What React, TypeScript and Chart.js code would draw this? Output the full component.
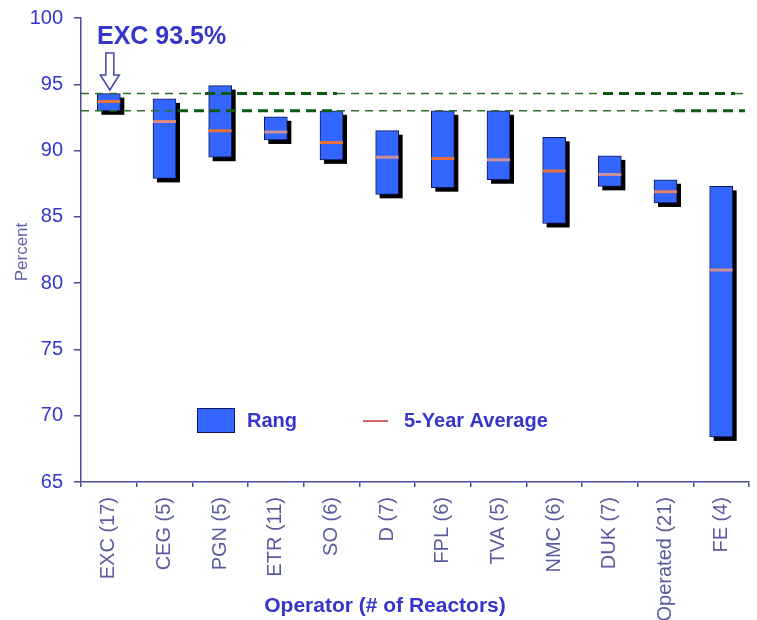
import React, { useEffect, useRef } from "react";
import { Chart, registerables } from "chart.js";

Chart.register(...registerables);

const categories = [
  "EXC (17)", "CEG (5)", "PGN (5)", "ETR (11)", "SO (6)", "D (7)",
  "FPL (6)", "TVA (5)", "NMC (6)", "DUK (7)", "Operated (21)", "FE (4)",
];
const rangeLow = [93.0, 87.9, 89.5, 90.8, 89.3, 86.7, 87.2, 87.8, 84.5, 87.3, 86.05, 68.4];
const rangeHigh = [94.3, 93.9, 94.9, 92.55, 93.0, 91.5, 93.0, 93.0, 91.0, 89.6, 87.8, 87.3];
const fiveYearAvg = [93.7, 92.2, 91.5, 91.4, 90.6, 89.5, 89.4, 89.3, 88.45, 88.2, 86.9, 81.0];
const referenceLines = [94.3, 93.0];
const yTicks = [65, 70, 75, 80, 85, 90, 95, 100];
const highlightLabel = "EXC 93.5%";
const legendLabels = ["Rang", "5-Year Average"];
const xTitle = "Operator (# of Reactors)";
const yTitle = "Percent";

const FONT = "'Liberation Sans', Arial, sans-serif";
const AXIS = "#4a4a9a";
const BLUE_TEXT = "#3535cc";
const BAR_FILL = "#3366ff";
const BAR_EDGE = "#14145a";
const AVG_COLORS = ["#e8703a", "#d88a80", "#e8703a", "#c9909a", "#e8703a", "#c9909a",
  "#e8703a", "#c9909a", "#e8703a", "#c9909a", "#e0806a", "#d09090"];

const deco = {
  id: "deco",
  beforeDatasetsDraw(chart: any) {
    const ctx = chart.ctx;
    const meta = chart.getDatasetMeta(0);
    ctx.save();
    ctx.fillStyle = "#000";
    meta.data.forEach((el: any) => {
      const top = Math.min(el.y, el.base);
      const bot = Math.max(el.y, el.base);
      ctx.fillRect(el.x - el.width / 2 + 4, top + 4, el.width, bot - top);
    });
    ctx.restore();
  },
  afterDatasetsDraw(chart: any) {
    const ctx = chart.ctx;
    const ys = chart.scales.y;
    const area = chart.chartArea;
    const styles = [
      [[area.left, 205, false], [205, 337, true], [337, 603, false], [603, 735, true], [735, area.right - 4, false]],
      [[area.left, 178, false], [178, 337, true], [337, 675, false], [675, area.right - 4, true]],
    ];
    ctx.save();
    referenceLines.forEach((v, i) => {
      const y = ys.getPixelForValue(v);
      (styles[i] as any[]).forEach(([a, b, thick]) => {
        ctx.beginPath();
        ctx.strokeStyle = thick ? "#0f5a12" : "#2a6e2a";
        ctx.lineWidth = thick ? 3 : 1.4;
        ctx.setLineDash(thick ? [10, 6] : [8, 6]);
        ctx.moveTo(a, y);
        ctx.lineTo(b, y);
        ctx.stroke();
      });
    });
    ctx.restore();
  },
  afterDraw(chart: any) {
    const ctx = chart.ctx;
    const bar0 = chart.getDatasetMeta(0).data[0];
    ctx.save();
    ctx.fillStyle = BLUE_TEXT;
    ctx.font = `bold 25px ${FONT}`;
    ctx.textAlign = "left";
    ctx.textBaseline = "middle";
    ctx.fillText(highlightLabel, 97, 37);
    const cx = bar0.x + 1;
    ctx.beginPath();
    ctx.moveTo(cx - 4, 53);
    ctx.lineTo(cx + 4, 53);
    ctx.lineTo(cx + 4, 75);
    ctx.lineTo(cx + 9.5, 75);
    ctx.lineTo(cx, 90);
    ctx.lineTo(cx - 9.5, 75);
    ctx.lineTo(cx - 4, 75);
    ctx.closePath();
    ctx.fillStyle = "#fff";
    ctx.fill();
    ctx.strokeStyle = "#4545a5";
    ctx.lineWidth = 1.5;
    ctx.stroke();
    ctx.fillStyle = BAR_FILL;
    ctx.fillRect(197, 408, 38, 25);
    ctx.strokeStyle = BAR_EDGE;
    ctx.lineWidth = 1;
    ctx.strokeRect(197.5, 408.5, 37, 24);
    ctx.fillStyle = BLUE_TEXT;
    ctx.font = `bold 20px ${FONT}`;
    ctx.fillText(legendLabels[0], 247, 421);
    ctx.beginPath();
    ctx.strokeStyle = "#c03535";
    ctx.lineWidth = 1.5;
    ctx.moveTo(363, 421);
    ctx.lineTo(388, 421);
    ctx.stroke();
    ctx.fillText(legendLabels[1], 404, 421);
    ctx.font = `bold 21px ${FONT}`;
    ctx.textAlign = "center";
    ctx.fillText(xTitle, 385, 606);
    ctx.translate(22, 252);
    ctx.rotate(-Math.PI / 2);
    ctx.fillStyle = "#6060a8";
    ctx.font = `17px ${FONT}`;
    ctx.fillText(yTitle, 0, 0);
    ctx.restore();
  },
};

export default function App() {
  const ref = useRef<HTMLCanvasElement>(null);
  useEffect(() => {
    if (!ref.current) return;
    const chart = new Chart(ref.current, {
      data: {
        labels: categories,
        datasets: [
          {
            type: "bar",
            label: legendLabels[0],
            data: categories.map((_, i) => [rangeLow[i], rangeHigh[i]]),
            backgroundColor: BAR_FILL,
            borderColor: BAR_EDGE,
            borderWidth: 1,
            borderSkipped: false,
            barThickness: 23,
            order: 2,
          } as any,
          {
            type: "line",
            label: legendLabels[1],
            data: fiveYearAvg,
            showLine: false,
            pointStyle: "line",
            pointRadius: 11.5,
            pointBorderWidth: 3,
            pointBorderColor: AVG_COLORS,
            pointBackgroundColor: AVG_COLORS,
            order: 1,
          } as any,
        ],
      },
      options: {
        responsive: false,
        animation: false,
        layout: { autoPadding: false, padding: { top: 18, right: 8, left: 0, bottom: 0 } },
        plugins: { legend: { display: false }, tooltip: { enabled: false } },
        scales: {
          x: {
            offset: true,
            afterFit: (s: any) => { s.height = 138; s.paddingLeft = 0; s.paddingRight = 0; },
            grid: { offset: true, drawOnChartArea: false, drawTicks: true, tickLength: 5, color: AXIS, lineWidth: 1.5 },
            border: { color: AXIS, width: 1.5 },
            ticks: {
              autoSkip: false, minRotation: 90, maxRotation: 90, padding: 10,
              color: "#5a5a9e", font: { family: FONT, size: 20 },
            },
          },
          y: {
            min: 65, max: 100,
            afterFit: (s: any) => { s.width = 81; s.paddingTop = 0; s.paddingBottom = 0; },
            afterBuildTicks: (s: any) => { s.ticks = yTicks.map((v) => ({ value: v })); },
            grid: { drawOnChartArea: false, drawTicks: true, tickLength: 7, color: AXIS, lineWidth: 1.5 },
            border: { color: AXIS, width: 1.5 },
            ticks: { padding: 11, color: BLUE_TEXT, font: { family: FONT, size: 20 } },
          },
        },
      },
      plugins: [deco],
    });
    return () => chart.destroy();
  }, []);
  return (
    <div style={{ position: "absolute", left: 0, top: 0, width: 757, height: 620, background: "#fff" }}>
      <canvas ref={ref} width={757} height={620} />
    </div>
  );
}
